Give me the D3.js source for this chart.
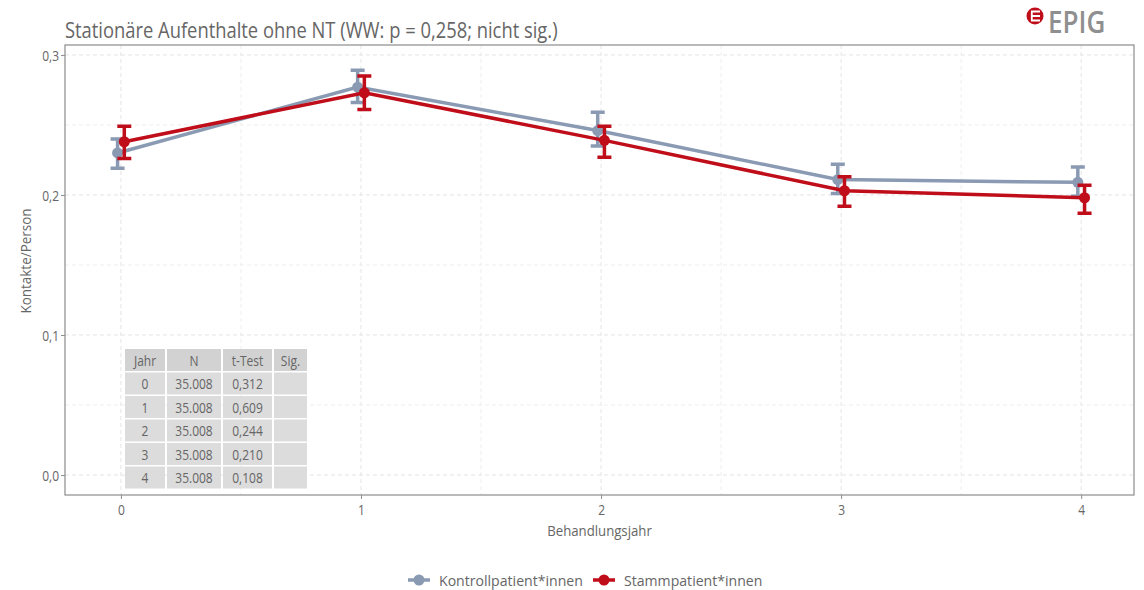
<!DOCTYPE html>
<html>
<head>
<meta charset="utf-8">
<script src="https://cdn.jsdelivr.net/npm/d3@7"></script>
<style>
  body { margin: 0; background: #fff; }
  text { font-family: "Open Sans", sans-serif; fill: #666; }
</style>
</head>
<body>
<div id="chart"></div>
<script>
var years = [0, 1, 2, 3, 4];
var seriesNames = ["Kontrollpatient*innen", "Stammpatient*innen"];
var seriesColors = ["#8a9ab3", "#c00d1a"];
var kontrollMean = [0.230, 0.277, 0.246, 0.211, 0.209];
var kontrollLow  = [0.219, 0.266, 0.235, 0.201, 0.199];
var kontrollHigh = [0.240, 0.289, 0.259, 0.222, 0.220];
var stammMean = [0.238, 0.273, 0.239, 0.203, 0.198];
var stammLow  = [0.226, 0.261, 0.227, 0.192, 0.187];
var stammHigh = [0.249, 0.285, 0.249, 0.213, 0.207];
var yTicks = [0, 0.1, 0.2, 0.3];
var tableHeader = ["Jahr", "N", "t-Test", "Sig."];
var tableN = ["35.008", "35.008", "35.008", "35.008", "35.008"];
var tableT = ["0,312", "0,609", "0,244", "0,210", "0,108"];
var tableSig = ["", "", "", "", ""];

var width = 1144, height = 590;
var panel = { left: 65, right: 1134, top: 45, bottom: 495 };

var svg = d3.select("#chart").append("svg")
  .attr("width", width).attr("height", height);

var x = d3.scaleLinear().domain([-0.233, 4.22]).range([panel.left, panel.right]);
var y = d3.scaleLinear().domain([-0.0143, 0.3071]).range([panel.bottom, panel.top]);

// condensed text: scale horizontally
function label(g, tx, ty, str, size, sx, anchor, rot) {
  return g.append("text")
    .attr("transform", "translate(" + tx + "," + ty + ")" + (rot ? " rotate(" + rot + ")" : "") + " scale(" + sx + ",1)")
    .attr("font-size", size)
    .attr("text-anchor", anchor || "start")
    .text(str);
}

// grid
var grid = svg.append("g");
d3.range(-0.5, 4.6, 0.5).forEach(function(v) {
  if (x(v) < panel.left || x(v) > panel.right) return;
  grid.append("line").attr("x1", x(v)).attr("x2", x(v)).attr("y1", panel.top).attr("y2", panel.bottom)
    .attr("stroke", Number.isInteger(v) ? "#e4e4e4" : "#eeeeee").attr("stroke-dasharray", "4,3");
});
d3.range(0, 0.31, 0.05).forEach(function(v) {
  grid.append("line").attr("x1", panel.left).attr("x2", panel.right).attr("y1", y(v)).attr("y2", y(v))
    .attr("stroke", Math.abs(v * 10 - Math.round(v * 10)) < 1e-6 ? "#e4e4e4" : "#eeeeee").attr("stroke-dasharray", "4,3");
});

svg.append("rect").attr("x", panel.left).attr("y", panel.top)
  .attr("width", panel.right - panel.left).attr("height", panel.bottom - panel.top)
  .attr("fill", "none").attr("stroke", "#8c8c8c").attr("stroke-width", 1.2);

// axes
var yAxis = svg.append("g").attr("transform", "translate(" + panel.left + ",0)")
  .call(d3.axisLeft(y).tickValues(yTicks).tickSize(4).tickFormat(function(d) { return d3.format(".1f")(d).replace(".", ","); }));
var xAxis = svg.append("g").attr("transform", "translate(0," + panel.bottom + ")")
  .call(d3.axisBottom(x).tickValues(years).tickSize(4).tickFormat(d3.format("d")));
[yAxis, xAxis].forEach(function(a) {
  a.select(".domain").remove();
  a.selectAll(".tick line").attr("stroke", "#8c8c8c");
  a.selectAll(".tick text").attr("font-size", 15).attr("fill", "#666")
    .style("font-family", "Open Sans, sans-serif");
});
yAxis.selectAll(".tick text").attr("x", 0).attr("dy", "0.35em").attr("transform", "translate(-6,0) scale(0.8,1)");
xAxis.selectAll(".tick text").attr("y", 9).attr("x", 0).attr("transform", "scale(0.8,1)");

label(svg, (panel.left + panel.right) / 2, 536, "Behandlungsjahr", 15, 0.88, "middle");
label(svg, 31, (panel.top + panel.bottom) / 2 - 9, "Kontakte/Person", 14, 0.96, "middle", -90);
label(svg, 65, 38, "Stationäre Aufenthalte ohne NT (WW: p = 0,258; nicht sig.)", 22, 0.835, "start");

// table
var cols = [{ x: 125, w: 40 }, { x: 167, w: 54 }, { x: 223, w: 49 }, { x: 274, w: 33 }];
var rowTop = 349, rowH = 23.5;
var tbl = svg.append("g");
var rows = [tableHeader].concat(years.map(function(yr, i) { return [String(yr), tableN[i], tableT[i], tableSig[i]]; }));
rows.forEach(function(r, ri) {
  r.forEach(function(c, ci) {
    tbl.append("rect").attr("x", cols[ci].x).attr("y", rowTop + ri * rowH)
      .attr("width", cols[ci].w).attr("height", rowH - 1.5)
      .attr("fill", ri === 0 ? "#d2d2d2" : "#dcdcdc");
    label(tbl, cols[ci].x + cols[ci].w / 2, rowTop + ri * rowH + 16.5, c, 15, 0.8, "middle");
  });
});

// series
var series = [
  { name: seriesNames[0], color: seriesColors[0], mean: kontrollMean, low: kontrollLow, high: kontrollHigh, dodge: -0.014 },
  { name: seriesNames[1], color: seriesColors[1], mean: stammMean, low: stammLow, high: stammHigh, dodge: 0.014 }
];
var line = d3.line().x(function(d) { return x(d.yr); }).y(function(d) { return y(d.v); });

series.forEach(function(s) {
  var pts = years.map(function(yr, i) { return { yr: yr + s.dodge, v: s.mean[i], lo: s.low[i], hi: s.high[i] }; });
  var g = svg.append("g");
  g.append("path").datum(pts).attr("d", line).attr("fill", "none")
    .attr("stroke", s.color).attr("stroke-width", 3.5);
  g.selectAll(".err").data(pts).enter().append("path")
    .attr("d", function(d) {
      var cx = x(d.yr), w = 7;
      return "M" + (cx - w) + "," + y(d.hi) + "H" + (cx + w) +
        "M" + cx + "," + y(d.hi) + "V" + y(d.lo) +
        "M" + (cx - w) + "," + y(d.lo) + "H" + (cx + w);
    })
    .attr("stroke", s.color).attr("stroke-width", 3.5).attr("fill", "none");
  g.selectAll("circle").data(pts).enter().append("circle")
    .attr("cx", function(d) { return x(d.yr); }).attr("cy", function(d) { return y(d.v); })
    .attr("r", 5.5).attr("fill", s.color);
});

// legend
var leg = svg.append("g");
var legX = [408, 593];
series.forEach(function(s, i) {
  leg.append("line").attr("x1", legX[i]).attr("x2", legX[i] + 22).attr("y1", 580).attr("y2", 580)
    .attr("stroke", s.color).attr("stroke-width", 3.5);
  leg.append("circle").attr("cx", legX[i] + 11).attr("cy", 580).attr("r", 5.5).attr("fill", s.color);
  label(leg, legX[i] + 31, 585.5, s.name, 15, 0.94, "start");
});

// logo
var logo = svg.append("g");
logo.append("circle").attr("cx", 1035).attr("cy", 16).attr("r", 8.5).attr("fill", "#c00d1a");
logo.append("path").attr("d", "M1031,11.5H1040M1031,16H1040M1031,20.5H1040M1031.8,11.5V20.5")
  .attr("stroke", "#fff").attr("stroke-width", 1.8).attr("fill", "none");
logo.append("text").attr("transform", "translate(1048,33) scale(0.84,1)")
  .attr("font-size", 31).attr("font-weight", 600).style("fill", "#8f8f8f").text("EPIG");
</script>
</body>
</html>
